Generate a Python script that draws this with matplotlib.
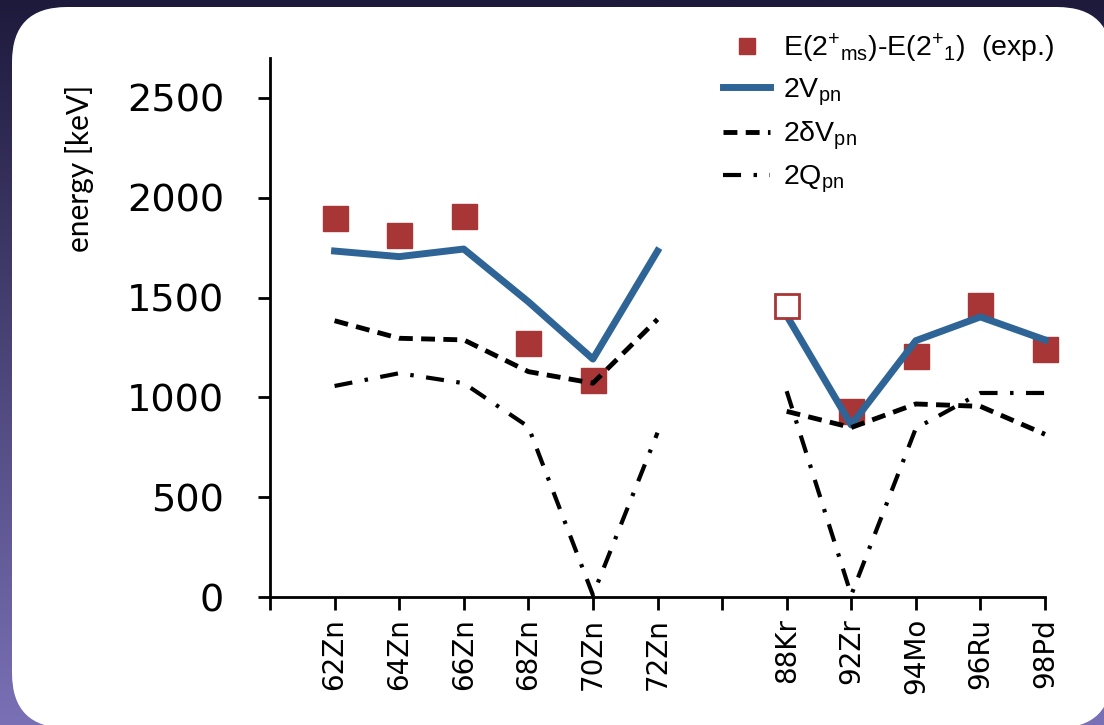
import numpy as np
import matplotlib
matplotlib.use("Agg")
import matplotlib.pyplot as plt
from matplotlib.patches import FancyBboxPatch

plt.rcParams['font.family'] = ['DejaVu Sans']
plt.rcParams['mathtext.fontset'] = 'custom'
plt.rcParams['mathtext.rm'] = 'Liberation Sans'
plt.rcParams['mathtext.it'] = 'Liberation Sans:italic'
plt.rcParams['mathtext.default'] = 'rm'
plt.rcParams['lines.scale_dashes'] = False

# categories (empty slot between the Zn and N=50 groups)
labels = ['', '62Zn', '64Zn', '66Zn', '68Zn', '70Zn', '72Zn', '',
          '88Kr', '92Zr', '94Mo', '96Ru', '98Pd']
x = np.arange(len(labels))
nan = np.nan

# values in keV
exp_ms = [nan, 1900, 1814, 1909, 1274, 1087, nan, nan, nan, 930, 1208, 1461, 1242]
exp_open = [nan, nan, nan, nan, nan, nan, nan, nan, 1456, nan, nan, nan, nan]
v_pn = [nan, 1733, 1705, 1743, 1479, 1192, 1733, nan, 1410, 862, 1284, 1403, 1288]
dv_pn = [nan, 1384, 1296, 1288, 1129, 1071, 1391, nan, 930, 849, 967, 955, 815]
q_pn = [nan, 1057, 1121, 1071, 853, 10, 823, nan, 1031, 10, 845, 1022, 1022]

red = '#a83636'
blue = '#2e6496'

W, H = 1104, 725
fig = plt.figure(figsize=(W / 100, H / 100), dpi=100)

# background gradient + white rounded panel
bg = fig.add_axes([0, 0, 1, 1], zorder=-1)
grad = np.linspace(0, 1, 256).reshape(-1, 1)
top = np.array([30, 26, 60]) / 255
bot = np.array([122, 112, 182]) / 255
img = top + (bot - top) * grad[:, :, None]
bg.imshow(img, extent=[0, W, H, 0], aspect='auto')
bg.add_patch(FancyBboxPatch((12, 7), 1100, 721,
                            boxstyle='round,pad=0,rounding_size=55',
                            fc='white', ec='none'))
bg.set_xlim(0, W)
bg.set_ylim(H, 0)
bg.axis('off')

ax = fig.add_axes([270 / W, 1 - 597 / H, 775 / W, 539 / H])
ax.set_facecolor('none')

ax.plot(x, exp_ms, 's', color=red, markersize=18, zorder=2, clip_on=False,
        label='E(2$^{+}{}_{ms}$)-E(2$^{+}{}_{1}$)  (exp.)')
ax.plot(x, v_pn, '-', color=blue, lw=5, zorder=3, clip_on=False,
        label='2V$_{pn}$')
ax.plot(x, dv_pn, color='black', lw=3.5, ls=(0, (10, 6)), zorder=3,
        clip_on=False, label='2δV$_{pn}$')
ax.plot(x, q_pn, color='black', lw=3, ls=(0, (13, 9, 2.5, 9)), zorder=3,
        clip_on=False, label='2Q$_{pn}$')
ax.plot(x, exp_open, 's', mfc='white', mec=red, mew=2, markersize=17,
        zorder=4, clip_on=False)

ax.set_xlim(0, 12)
ax.set_ylim(0, 2700)
ax.set_xticks(x)
ax.set_xticklabels(labels, rotation=90, va='top', ha='center', fontsize=20)
ax.set_yticks([0, 500, 1000, 1500, 2000, 2500])
ax.tick_params(axis='y', labelsize=27.5, length=9, width=2, pad=24, direction='out')
ax.tick_params(axis='x', length=9, width=2, pad=6, direction='out')
for s in ['top', 'right']:
    ax.spines[s].set_visible(False)
for s in ['left', 'bottom']:
    ax.spines[s].set_linewidth(2)

fig.text(79 / W, 1 - 168 / H, 'energy [keV]', rotation=90, ha='center',
         va='center', fontsize=21.5, family=['Lato', 'DejaVu Sans'])

ax.legend(loc='upper left', bbox_to_anchor=(709 / W, 1 - 17 / H),
          bbox_transform=fig.transFigure, frameon=False, borderpad=0,
          prop={'family': 'Liberation Sans', 'size': 20.5}, markerscale=0.65,
          handlelength=1.65, handletextpad=0.45, labelspacing=0.42)

fig.savefig('out.png', dpi=100)
